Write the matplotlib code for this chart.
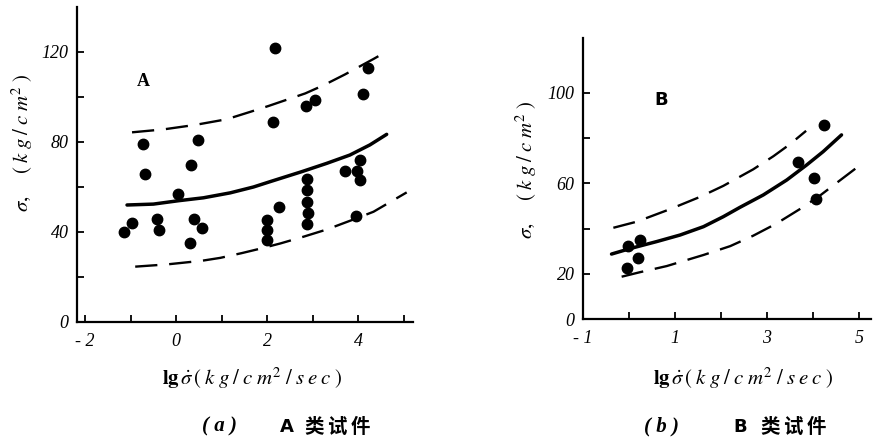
import matplotlib
matplotlib.use("Agg")
import matplotlib.pyplot as plt

plt.rcParams['mathtext.fontset'] = 'stix'
plt.rcParams['lines.scale_dashes'] = False

# ---------------- Panel (a) data ----------------
a_x = [-1.14, -0.97, -0.73, -0.68, -0.42, -0.37, 0.05, 0.33, 0.47, 0.31, 0.40, 0.56,
       2.18, 2.13, 2.26, 2.00, 2.00, 2.00, 2.86, 3.05,
       2.88, 2.88, 2.88, 2.90, 2.88,
       3.71, 4.04, 3.98, 4.04, 3.96, 4.10, 4.22]
a_y = [40, 44, 79, 66, 46, 41, 57, 70, 81, 35, 46, 42,
       122, 89, 51, 45.3, 40.9, 36.4, 96, 98.6,
       63.6, 58.7, 53.3, 48.4, 43.6,
       67, 72, 67, 63, 47, 101.5, 113]
a_mid_x = [-1.08, -0.50, 0.05, 0.60, 1.19, 1.70, 2.07, 2.76, 3.31, 3.82, 4.26, 4.63]
a_mid_y = [52.0, 52.4, 53.9, 55.2, 57.4, 60.0, 62.4, 66.8, 70.5, 74.2, 78.7, 83.4]
a_up_x = [-0.97, -0.28, 0.42, 1.11, 1.63, 2.03, 2.84, 3.24, 3.71, 4.34, 4.62]
a_up_y = [84.3, 85.6, 87.6, 90.1, 93.4, 96.0, 101.6, 105.2, 110.0, 116.9, 120.1]
a_lo_x = [-0.90, -0.20, 0.56, 0.97, 1.44, 1.85, 2.29, 2.80, 3.31, 3.97, 4.34, 5.07]
a_lo_y = [24.6, 25.6, 27.2, 28.5, 30.6, 32.6, 34.9, 37.9, 41.1, 46.1, 49.0, 57.6]
a_xticks = [-2, -1, 0, 1, 2, 3, 4, 5]
a_xlabels = ['- 2', '', '0', '', '2', '', '4', '']
a_yticks = [0, 20, 40, 60, 80, 100, 120]
a_ylabels = ['0', '', '40', '', '80', '', '120']

# ---------------- Panel (b) data ----------------
b_x = [-0.03, 0.24, 0.20, -0.05, 3.68, 4.24, 4.03, 4.06]
b_y = [32.4, 35.0, 27.2, 22.8, 69.3, 85.8, 62.5, 53.1]
b_mid_x = [-0.38, 0.02, 0.60, 1.11, 1.62, 2.05, 2.41, 2.92, 3.43, 3.86, 4.22, 4.62]
b_mid_y = [28.8, 31.2, 34.3, 37.2, 40.9, 45.3, 49.4, 54.9, 61.5, 68.1, 74.0, 81.4]
b_up_x = [-0.34, 0.17, 0.89, 1.54, 2.05, 2.70, 3.14, 3.50, 3.85]
b_up_y = [40.4, 43.1, 48.6, 54.0, 58.9, 66.2, 72.0, 77.3, 83.2]
b_lo_x = [-0.16, 0.24, 0.82, 1.62, 2.20, 2.70, 3.20, 3.75, 4.15, 5.09]
b_lo_y = [18.8, 20.8, 23.5, 28.4, 32.3, 36.9, 42.2, 49.1, 54.6, 69.1]
b_xticks = [-1, 0, 1, 2, 3, 4, 5]
b_xlabels = ['- 1', '', '1', '', '3', '', '5']
b_yticks = [0, 20, 40, 60, 80, 100]
b_ylabels = ['0', '20', '', '60', '', '100']

W, H = 874, 443
fig = plt.figure(figsize=(W / 100, H / 100), dpi=100)

serif = 'Liberation Serif'
dash = (0, (16, 8.5))


def setup(ax, xlim, ylim, xt, xl, yt, yl):
    ax.set_xlim(*xlim)
    ax.set_ylim(*ylim)
    for s in ['top', 'right']:
        ax.spines[s].set_visible(False)
    for s in ['left', 'bottom']:
        ax.spines[s].set_linewidth(1.6)
    ax.set_xticks(xt)
    ax.set_xticklabels(xl, family=serif, style='italic', fontsize=13)
    ax.set_yticks(yt)
    ax.set_yticklabels(yl, family=serif, style='italic', fontsize=13)
    ax.tick_params(direction='in', length=5, width=1.3, pad=8)
    ax.tick_params(axis='y', pad=6)


def curves(ax, mx, my, ux, uy, lx, ly, px, py):
    ax.plot(mx, my, color='black', lw=2.5, solid_capstyle='round', solid_joinstyle='round')
    ax.plot(ux, uy, color='black', lw=1.7, linestyle=dash, dash_joinstyle='round')
    ax.plot(lx, ly, color='black', lw=1.7, linestyle=dash, dash_joinstyle='round')
    ax.plot(px, py, 'o', color='black', markersize=7.5)


# Panel (a)
axa = fig.add_axes([77 / W, (H - 322) / H, 335.6 / W, 315 / H])
setup(axa, (-2.18, 5.2), (0, 140), a_xticks, a_xlabels, a_yticks, a_ylabels)
curves(axa, a_mid_x, a_mid_y, a_up_x, a_up_y, a_lo_x, a_lo_y, a_x, a_y)
axa.text(-0.73, 107, 'A', family=serif, weight='bold', fontsize=13, ha='center', va='center')

# Panel (b)
axb = fig.add_axes([583 / W, (H - 319.3) / H, 287.5 / W, 280.9 / H])
setup(axb, (-1, 5.25), (0, 124), b_xticks, b_xlabels, b_yticks, b_ylabels)
curves(axb, b_mid_x, b_mid_y, b_up_x, b_up_y, b_lo_x, b_lo_y, b_x, b_y)
axb.text(0.7, 97, 'B', family='DejaVu Sans', weight='bold', fontsize=13, ha='center', va='center')

# axis labels
xlab = r'$\mathbf{lg}\,\dot{\sigma}\,(\;k\;g\;/\;c\;m^{2}\;/\;s\;e\;c\;)$'
ylab = r'$\sigma,\quad\ (\;k\;g\;/\;c\;m^{2}\;)$'
fig.text(252 / W, 1 - 378 / H, xlab, fontsize=15, ha='center', va='center')
fig.text(743 / W, 1 - 378 / H, xlab, fontsize=15, ha='center', va='center')
fig.text(22 / W, 1 - 143 / H, ylab, fontsize=15, ha='center', va='center', rotation=90)
fig.text(526 / W, 1 - 170 / H, ylab, fontsize=15, ha='center', va='center', rotation=90)

# captions
cjk = ['Noto Sans CJK SC', 'DejaVu Sans']
for cx, lab, lx, letter, hx in [(219, 'a', 287, 'A', 337), (662, 'b', 740, 'B', 793)]:
    fig.text(cx / W, 1 - 426 / H, '( %s )' % lab, family=serif, style='italic',
             weight='bold', fontsize=15, ha='center', va='center')
    fig.text(lx / W, 1 - 427 / H, letter, family='DejaVu Sans', weight='bold', fontsize=13,
             ha='center', va='center')
    for i, ch in enumerate('类试件'):
        fig.text((hx + (i - 1) * 23) / W, 1 - 427 / H, ch, family=cjk, weight='bold',
                 fontsize=14, ha='center', va='center')

fig.savefig('out.png', dpi=100)
